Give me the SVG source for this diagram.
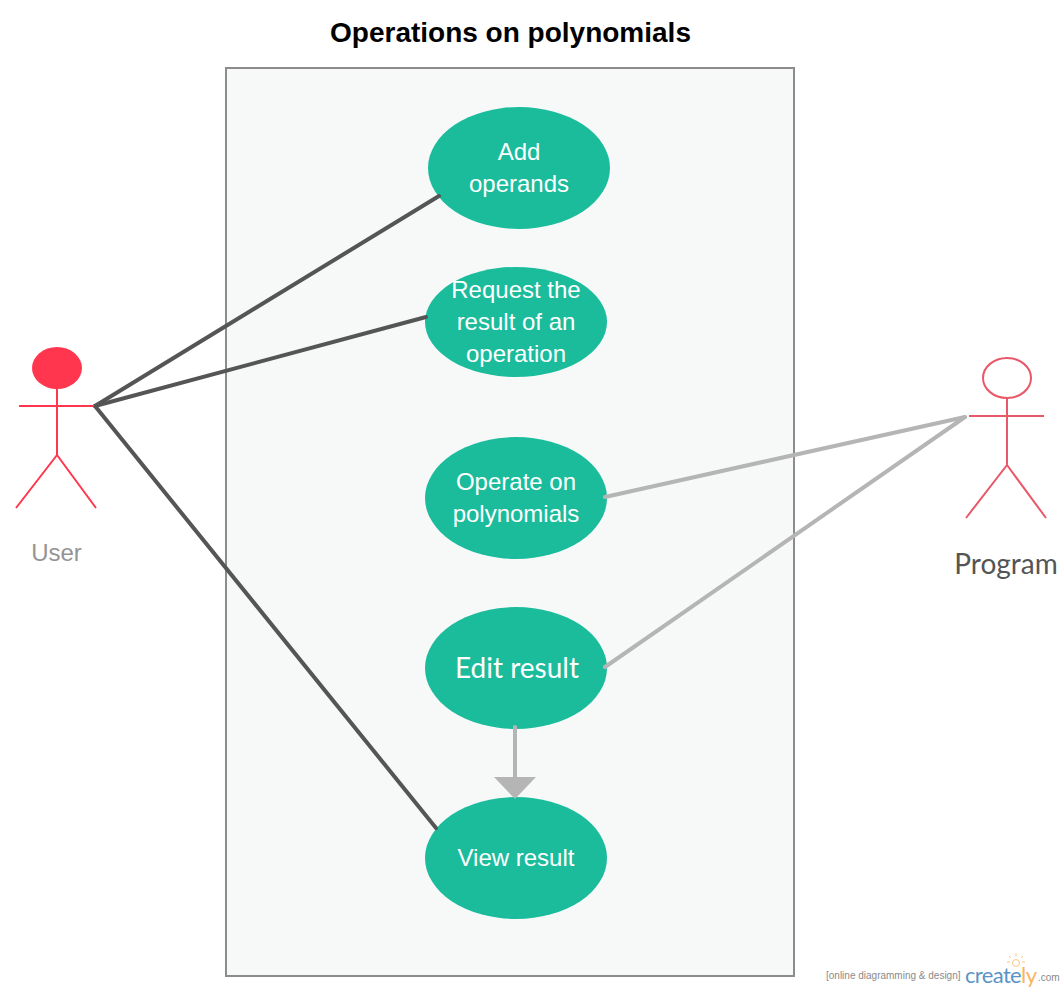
<svg xmlns="http://www.w3.org/2000/svg" width="1064" height="991" viewBox="0 0 1064 991">
<style>
.uc{fill:#1abc9c}
.t{font-family:"Liberation Sans",Arial,sans-serif;font-size:24px;fill:#fff;text-anchor:middle}
.dark{fill:none;stroke:#555;stroke-width:4;stroke-linecap:round}
.light{fill:none;stroke:#b5b5b5;stroke-width:4;stroke-linecap:round}
.u{fill:none;stroke:#ff364d;stroke-width:2}
.p{fill:none;stroke:#ea5768;stroke-width:2}
</style>
<rect width="1064" height="991" fill="#fff"/>
<text x="510.500" y="42" font-family="Liberation Sans,Arial,sans-serif" font-size="28" font-weight="700" text-anchor="middle" fill="#000">Operations on polynomials</text>
<rect id="system" x="226" y="68" width="568" height="908" fill="#f7f9f8" stroke="#8c8c8c" stroke-width="2"/>
<g id="use-add"><ellipse class="uc" cx="519" cy="168" rx="91" ry="61"/><text class="t" x="519" y="160">Add</text><text class="t" x="519" y="192">operands</text></g>
<g id="use-request"><ellipse class="uc" cx="516" cy="322" rx="91" ry="55"/><text class="t" x="516" y="298">Request the</text><text class="t" x="516" y="330">result of an</text><text class="t" x="516" y="362">operation</text></g>
<g id="use-operate"><ellipse class="uc" cx="516" cy="498" rx="91" ry="61"/><text class="t" x="516" y="490">Operate on</text><text class="t" x="516" y="522">polynomials</text></g>
<g id="use-edit"><ellipse class="uc" cx="516" cy="668" rx="91" ry="61"/><text class="t" x="517" y="678" style="font-size:28px;font-family:Lato,sans-serif">Edit result</text></g>
<g id="use-view"><ellipse class="uc" cx="516" cy="858" rx="91" ry="61"/><text class="t" x="516" y="866">View result</text></g>
<g id="connectors">
<path class="dark" d="M95 406L439 196"/>
<path class="dark" d="M95 406L426 317"/>
<path class="dark" d="M95 406L436 828"/>
<path class="light" d="M605 497L965 417"/>
<path class="light" d="M605 667L965 417"/>
<path class="light" d="M515 727V780"/>
<polygon points="494,777 536,777 515,799" fill="#b5b5b5"/>
</g>
<g id="actor-user">
<ellipse cx="57" cy="368" rx="25" ry="21" fill="#ff364d"/>
<path class="u" d="M57 388V455M19 406H94M57 455L16 508M57 455L96 508"/>
<text x="56.500" y="561" font-family="Liberation Sans,Arial,sans-serif" font-size="24" fill="#949494" text-anchor="middle">User</text>
</g>
<g id="actor-program">
<ellipse cx="1007" cy="378" rx="24" ry="20" fill="none" stroke="#ea5768" stroke-width="2"/>
<path class="p" d="M1007 398V465M969 416H1044M1007 465L966 518M1007 465L1046 518"/>
<text x="1006" y="574" font-family="Lato,sans-serif" font-size="28" fill="#555" text-anchor="middle">Program</text>
</g>
<g id="watermark">
<text x="826" y="979" font-family="Liberation Sans,Arial,sans-serif" font-size="10" fill="#8a8a8a">[online diagramming &amp; design]</text>
<text x="965" y="983" font-family="Lato,sans-serif" font-size="22" fill="#5b93c7" textLength="72">create<tspan fill="#f9b55d">ly</tspan></text>
<text x="1038" y="981" font-family="Liberation Sans,Arial,sans-serif" font-size="10" fill="#8a8a8a">.com</text>
<path d="M1016 953V956M1009 956L1011 958M1023 956L1021 958M1007 962H1010M1022 962H1025" stroke="#f9c77f" stroke-width="1" fill="none"/>
<circle cx="1016" cy="963" r="3.500" fill="none" stroke="#f9c77f"/>
</g>
</svg>
